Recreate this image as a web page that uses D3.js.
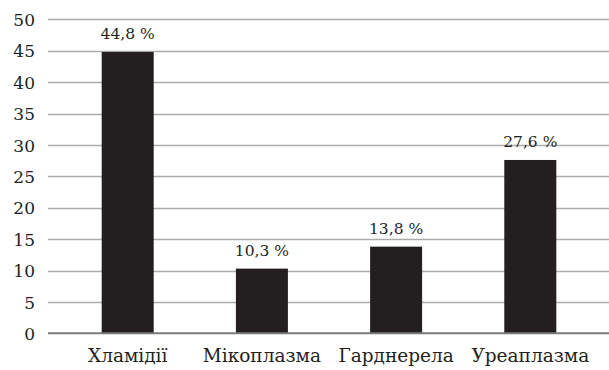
<!DOCTYPE html>
<html><head><meta charset="utf-8">
<script src="https://cdn.jsdelivr.net/npm/d3@7"></script>
<style>html,body{margin:0;padding:0;background:#fff;}svg{display:block;}</style>
</head><body>
<script>
const categories = ["Хламідії", "Мікоплазма", "Гарднерела", "Уреаплазма"];
const values = [44.8, 10.3, 13.8, 27.6];
const valueLabels = ["44,8 %", "10,3 %", "13,8 %", "27,6 %"];
const yTicks = [0, 5, 10, 15, 20, 25, 30, 35, 40, 45, 50];

const W = 609, H = 370;
const font = "DejaVu Serif";
const ink = "#231f20";
const svg = d3.select("body").append("svg").attr("width", W).attr("height", H);

const y = d3.scaleLinear().domain([0, 50]).range([333.3, 19.3]);
const x = d3.scaleBand().domain(categories).range([60.6, 597.4])
  .paddingInner(0.6125).paddingOuter(0.30625);
const gridX0 = 48, gridX1 = 609;

// gridlines
svg.append("g").selectAll("line").data(yTicks.filter(d => d > 0)).join("line")
  .attr("x1", gridX0).attr("x2", gridX1)
  .attr("y1", d => Math.round(y(d)) + 0.5).attr("y2", d => Math.round(y(d)) + 0.5)
  .attr("stroke", "#ababab").attr("stroke-width", 1.3);

// y axis labels
const yAxis = d3.axisLeft(y).tickValues(yTicks).tickSize(0).tickPadding(0);
const gy = svg.append("g").attr("transform", "translate(35,0)").call(yAxis);
gy.select(".domain").remove();
gy.selectAll("text").attr("font-family", font).attr("font-size", 17).attr("fill", ink).attr("dy", "0.36em");

// bars
svg.append("g").selectAll("rect").data(values).join("rect")
  .attr("x", (d, i) => x(categories[i]))
  .attr("width", x.bandwidth())
  .attr("y", d => y(d))
  .attr("height", d => y(0) - y(d))
  .attr("fill", ink);

// baseline
svg.append("line").attr("x1", gridX0).attr("x2", gridX1)
  .attr("y1", y(0)).attr("y2", y(0)).attr("stroke", "#7a7a7a").attr("stroke-width", 2);

// value labels
svg.append("g").selectAll("text").data(values).join("text")
  .attr("x", (d, i) => x(categories[i]) + x.bandwidth() / 2)
  .attr("y", d => y(d) - 13)
  .attr("text-anchor", "middle")
  .attr("font-family", font).attr("font-size", 15.5).attr("fill", ink)
  .text((d, i) => valueLabels[i]);

// category labels
const xAxis = d3.axisBottom(x).tickSize(0).tickPadding(0);
const gx = svg.append("g").attr("transform", "translate(0,362)").call(xAxis);
gx.select(".domain").remove();
gx.selectAll("text").attr("font-family", font).attr("font-size", 18.5).attr("fill", ink).attr("dy", 0);
</script>
</body></html>
